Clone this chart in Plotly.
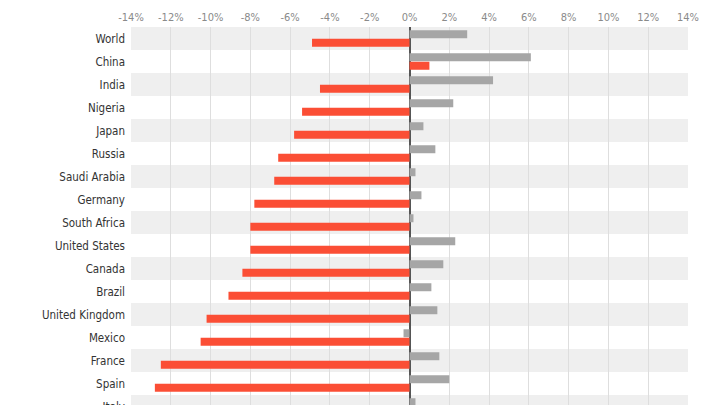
import plotly.graph_objects as go

countries = ["World", "China", "India", "Nigeria", "Japan", "Russia", "Saudi Arabia",
             "Germany", "South Africa", "United States", "Canada", "Brazil",
             "United Kingdom", "Mexico", "France", "Spain", "Italy"]
growth_2019 = [2.9, 6.1, 4.2, 2.2, 0.7, 1.3, 0.3, 0.6, 0.2, 2.3, 1.7, 1.1, 1.4, -0.3, 1.5, 2.0, 0.3]
growth_2020 = [-4.9, 1.0, -4.5, -5.4, -5.8, -6.6, -6.8, -7.8, -8.0, -8.0, -8.4, -9.1, -10.2, -10.5, -12.5, -12.8, -12.8]
tick_vals = list(range(-14, 15, 2))
tick_text = [f"{v}%" for v in tick_vals]

FONT = "DejaVu Sans Condensed, Liberation Sans Narrow, Roboto, sans-serif"

fig = go.Figure()
fig.add_trace(go.Bar(y=countries, x=growth_2019, orientation="h",
                     marker=dict(color="#a6a6a6", line=dict(width=0)), name="2019"))
fig.add_trace(go.Bar(y=countries, x=growth_2020, orientation="h",
                     marker=dict(color="#fb4e35", line=dict(width=0)), name="2020"))

shapes = []
for i, c in enumerate(countries):
    if i % 2 == 0:
        shapes.append(dict(type="rect", xref="paper", yref="y", x0=0, x1=1,
                           y0=i - 0.5, y1=i + 0.5, fillcolor="#efefef",
                           line=dict(width=0), layer="below"))

# page body has an 8px default margin, compensated here
fig.update_layout(
    width=720, height=405,
    margin=dict(l=123, r=40, t=19, b=0),
    paper_bgcolor="white", plot_bgcolor="rgba(0,0,0,0)",
    barmode="group", bargap=0.26, bargroupgap=0.06,
    showlegend=False,
    shapes=shapes,
    font=dict(family=FONT),
)
fig.update_xaxes(
    side="top", range=[-14, 14], tickvals=tick_vals, ticktext=tick_text,
    showgrid=True, gridcolor="#dedede", gridwidth=1,
    zeroline=True, zerolinecolor="#555555", zerolinewidth=1.5,
    tickfont=dict(size=11, color="#8a8a8a", family=FONT), ticks="",
    ticklabelstandoff=3,
    fixedrange=True, layer="below traces", automargin=False,
)
fig.update_yaxes(
    type="category", categoryorder="array", categoryarray=countries,
    range=[-0.5 + 386 / 23, -0.5], showgrid=False, zeroline=False,
    tickfont=dict(size=11.5, color="#333333", family=FONT), ticks="",
    ticklabelstandoff=5, automargin=False,
)
fig.write_html("out.html")
